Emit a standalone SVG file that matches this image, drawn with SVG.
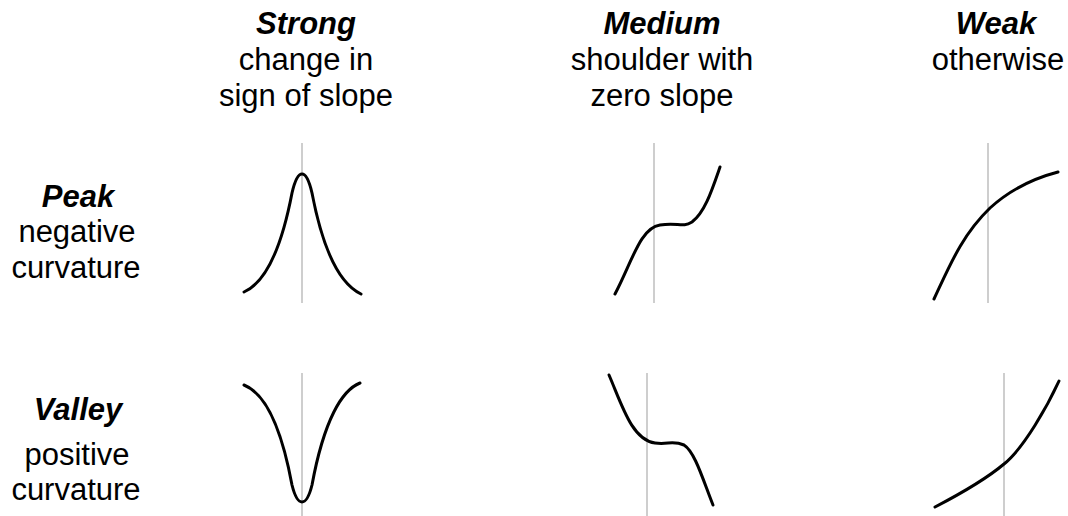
<svg xmlns="http://www.w3.org/2000/svg" width="1068" height="516" viewBox="0 0 1068 516">
<style>
text{font-family:"Liberation Sans",Arial,sans-serif;font-size:31px;fill:#000;text-anchor:middle}
.h{font-weight:bold;font-style:italic}
.axis{stroke:#b4b4b4;stroke-width:1.3;fill:none}
.curve{stroke:#000;stroke-width:3;fill:none;stroke-linecap:round;stroke-linejoin:round}
</style>
<rect width="1068" height="516" fill="#fff"/>
<g id="header-strong">
<text class="h" x="306" y="34">Strong</text>
<text x="306" y="70">change in</text>
<text x="306" y="106">sign of slope</text>
</g>
<g id="header-medium">
<text class="h" x="662" y="34">Medium</text>
<text x="662" y="70">shoulder with</text>
<text x="662" y="106">zero slope</text>
</g>
<g id="header-weak">
<text class="h" x="996" y="34">Weak</text>
<text x="998" y="70">otherwise</text>
</g>
<g id="row-peak">
<text class="h" x="78" y="207">Peak</text>
<text x="77" y="242">negative</text>
<text x="76" y="278">curvature</text>
</g>
<g id="row-valley">
<text class="h" x="78" y="420">Valley</text>
<text x="77" y="465">positive</text>
<text x="76" y="500">curvature</text>
</g>
<g id="peak-strong">
<line class="axis" x1="302" y1="143" x2="302" y2="303"/>
<path class="curve" d="M244,292 C269,281 283,240 292,193 C295,180 298,174 302,174 C306,174 309,180 312,193 C321,240 336,282 361,294"/>
</g>
<g id="peak-medium">
<line class="axis" x1="654" y1="143" x2="654" y2="303"/>
<path class="curve" d="M615,294 C632,262 640,228 660,225 C678,222 682,228 692,222 C705,212 712,190 720,167"/>
</g>
<g id="peak-weak">
<line class="axis" x1="988" y1="143" x2="988" y2="303"/>
<path class="curve" d="M934,299 C950,265 962,235 990,208 C1012,188 1035,178 1058,172"/>
</g>
<g id="valley-strong">
<line class="axis" x1="302" y1="373" x2="302" y2="516"/>
<path class="curve" d="M244,385 C262,392 280,420 292,485 C295,497 298,502 302,502 C306,502 309,497 312,485 C324,420 342,390 360,383"/>
</g>
<g id="valley-medium">
<line class="axis" x1="647" y1="373" x2="647" y2="516"/>
<path class="curve" d="M609,375 C622,405 632,440 655,443 C668,445 672,440 684,445 C695,452 703,480 713,505"/>
</g>
<g id="valley-weak">
<line class="axis" x1="1004" y1="373" x2="1004" y2="516"/>
<path class="curve" d="M935,507 C960,494 985,480 1004,464 C1024,448 1048,405 1059,381"/>
</g>
<g id="connectors"/>
</svg>
